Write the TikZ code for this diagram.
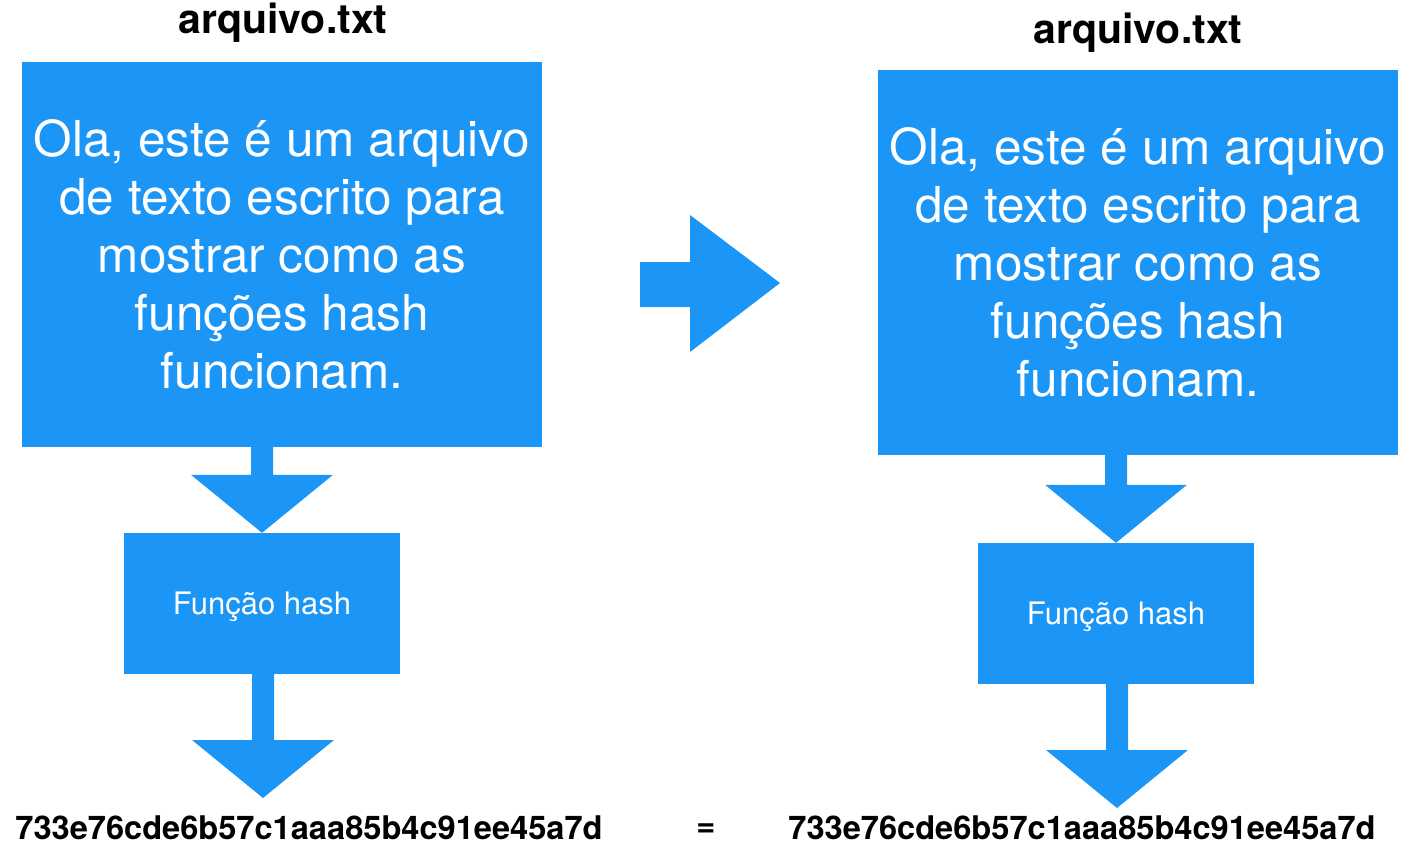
\documentclass[tikz,border=0pt]{standalone}
\usepackage{fontspec}
\setmainfont{TeX Gyre Heros}
\usetikzlibrary{calc}
\definecolor{hashblue}{RGB}{28,150,246}
\tikzset{
	bigbox/.style={fill=hashblue, text=white, minimum width=520pt, minimum height=385pt,
		align=center, inner sep=0pt, font=\fontsize{49.5}{58}\selectfont},
	fnbox/.style={fill=hashblue, text=white, minimum width=276pt, minimum height=141pt,
		inner sep=0pt, text depth=0pt, font=\fontsize{31}{36}\selectfont},
	titletext/.style={font=\fontsize{41}{48}\selectfont\bfseries},
	hashtext/.style={font=\fontsize{32.6}{38}\selectfont\bfseries, inner sep=0pt}
}
% block arrow pointing down: from node (top of stem), to point (x and tip)
\newcommand{\blkarrow}[2]{%
  \fill[hashblue] let \p1=(#1), \p2=(#2) in
    (\x2-11pt,\y1) -- (\x2-11pt,\y2+58pt) -- (\x2-71pt,\y2+58pt) -- (\x2,\y2)
    -- (\x2+71pt,\y2+58pt) -- (\x2+11pt,\y2+58pt) -- (\x2+11pt,\y1) -- cycle;}
\begin{document}
\begin{tikzpicture}[x=1pt, y=-1pt]
  \useasboundingbox (0,0) rectangle (1419,856);
  % left side
  \node[titletext] (titleA) at (283,23) {arquivo.txt};
  \node[bigbox] (boxA) at (282,254.5) {Ola, este é um arquivo\\de texto escrito para\\mostrar como as\\funções hash\\funcionam.};
  \node[fnbox] (fnA) at (262,603.5) {Função hash};
  \node[hashtext] (hashA) at (309,828) {733e76cde6b57c1aaa85b4c91ee45a7d};
  \coordinate (tipA) at (263,798);
  \blkarrow{boxA.south}{fnA.north}
  \blkarrow{fnA.south}{tipA}
  % right side
  \node[titletext] (titleB) at (1138,33) {arquivo.txt};
  \node[bigbox] (boxB) at (1138,262.5) {Ola, este é um arquivo\\de texto escrito para\\mostrar como as\\funções hash\\funcionam.};
  \node[fnbox] (fnB) at (1116,613.5) {Função hash};
  \node[hashtext] (hashB) at (1082,828) {733e76cde6b57c1aaa85b4c91ee45a7d};
  \coordinate (tipB) at (1117,808);
  \blkarrow{boxB.south}{fnB.north}
  \blkarrow{fnB.south}{tipB}
  % arrow between the two files
  \fill[hashblue] (640,262) -- (690,262) -- (690,215) -- (780,283) -- (690,352) -- (690,307) -- (640,307) -- cycle;
  \node[hashtext] (equal) at (706,830) {=};
\end{tikzpicture}
\end{document}
